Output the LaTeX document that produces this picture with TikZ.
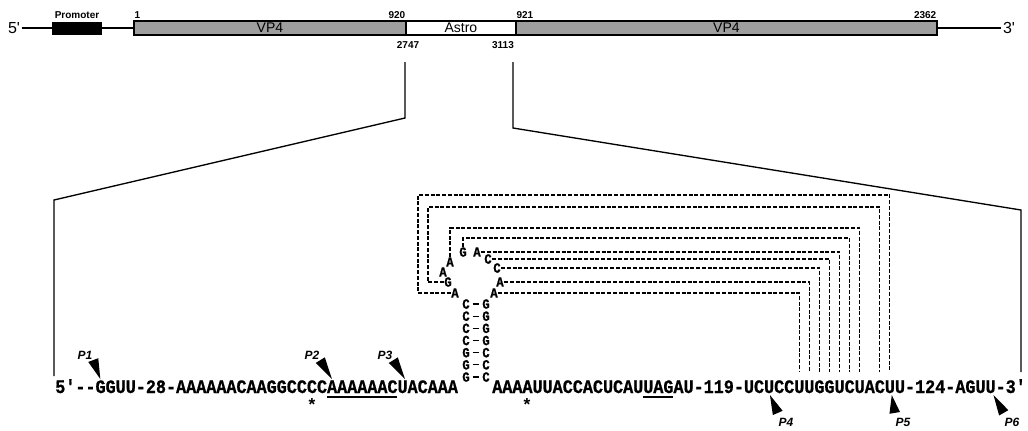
\documentclass[tikz,border=0pt]{standalone}
\usepackage{fontspec}
\usetikzlibrary{calc}
\newfontfamily\labfont{Liberation Sans}
\newfontfamily\seqfont[Ligatures=TeXOff, FakeStretch=0.88, BoldFeatures={FakeBold=0.8}]{Liberation Mono}

% pointer wedge: base centre, tip
\newcommand{\pwedge}[2]{\fill ($#1!4pt!90:#2$) -- ($#1!4pt!-90:#2$) -- #2 -- cycle;}

\begin{document}
\begin{tikzpicture}[x=0.75pt, y=-0.75pt,
            endlab/.style={font=\labfont\fontsize{12}{14}\selectfont, inner sep=1pt},
            promo/.style={draw, fill=black, minimum width=36.75pt, minimum height=9pt, inner sep=0pt},
            genebox/.style={draw, line width=1.4pt, anchor=west, minimum height=10.5pt, inner sep=0pt,
                            font=\labfont\fontsize{10.5}{11}\selectfont},
            vpbox/.style={genebox, fill=black!38},
            numlab/.style={font=\labfont\bfseries\fontsize{7.5}{8}\selectfont, inner sep=1pt},
            backbone/.style={line width=1.1pt},
            zoomline/.style={line width=1pt},
            seqtext/.style={font=\seqfont\bfseries\fontsize{14.3}{16}\selectfont, inner sep=0pt, anchor=base west},
            loopnt/.style={font=\seqfont\bfseries\fontsize{10.5}{11}\selectfont, inner sep=0.2pt},
            stemnt/.style={loopnt, inner xsep=2pt, inner ysep=0.2pt},
            bond/.style={line width=0.9pt},
            pair/.style={dash pattern=on 3pt off 1.3pt, line width=0.85pt},
            plab/.style={font=\labfont\bfseries\itshape\fontsize{9}{10}\selectfont, inner sep=0.5pt},
            astmark/.style={font=\labfont\bfseries\fontsize{13}{14}\selectfont, inner sep=0pt, anchor=base},
            uline/.style={line width=1.5pt}
        ]
    \useasboundingbox (0,0) rectangle (1028,430);

    % genome map
    \node[endlab] (e5) at (14,28) {5\textquotesingle};
    \node[promo] (prom) at (76.5,28) {};
    \node[numlab] (promlab) at (77,15) {Promoter};
    \node[vpbox, minimum width=204pt]    (vpa)   at (133,28) {VP4};
    \node[genebox, minimum width=82.5pt] (astro) at (405,28) {Astro};
    \node[vpbox, minimum width=315.75pt] (vpb)   at (515,28) {VP4};
    \node[endlab] (e3) at (1009,28) {3\textquotesingle};

    \draw[backbone] (e5) -- (prom);
    \draw[backbone] (prom) -- (vpa);
    \draw[backbone] (vpb) -- (e3);

    \node[numlab, anchor=south west] (n1)    at (vpa.north west) {1};
    \node[numlab, anchor=south east] (n920)  at (vpa.north east) {920};
    \node[numlab, anchor=south west] (n921)  at (vpb.north west) {921};
    \node[numlab, anchor=south east] (n2362) at (vpb.north east) {2362};
    \node[numlab] (n2747) at (408,45) {2747};
    \node[numlab] (n3113) at (503,45) {3113};

    % zoom lines
    \coordinate (zl0) at (405,62);  \coordinate (zl1) at (405,118);
    \coordinate (zl2) at (54,200);  \coordinate (zl3) at (54,376);
    \coordinate (zr0) at (513,62);  \coordinate (zr1) at (513,128);
    \coordinate (zr2) at (1021,210);\coordinate (zr3) at (1021,372);
    \draw[zoomline] (zl0) -- (zl1) -- (zl2) -- (zl3);
    \draw[zoomline] (zr0) -- (zr1) -- (zr2) -- (zr3);

    % sequence
    \node[seqtext] (seqL) at (55,393) {5'--GGUU-28-AAAAAACAAGGCCCCAAAAAACUACAAA};
    \node[seqtext] (seqR) at (492,393) {AAAAUUACCACUCAUUAGAU-119-UCUCCUUGGUCUACUU-124-AGUU-3'};

    \draw[uline] ($(seqL.base west)+({27*10.07},4)$) -- ($(seqL.base west)+({34*10.07},4)$);
    \draw[uline] ($(seqR.base west)+({15*10.07},4)$) -- ($(seqR.base west)+({18*10.07},4)$);
    \node[astmark] (ast1) at (312,410) {*};
    \node[astmark] (ast2) at (527,410) {*};

    % stem
    \foreach \l/\r [count=\k from 0] in {C/G,C/G,C/G,C/G,G/C,G/C,G/C} {
        \node[stemnt] (sl\k) at (466,{304+12.17*\k}) {\l};
        \node[stemnt] (sr\k) at (486,{304+12.17*\k}) {\r};
        \draw[bond] (sl\k) -- (sr\k);
    }

    % loop
    \node[loopnt] (lp1)  at (455,293) {A};
    \node[loopnt] (lp2)  at (448,282) {G};
    \node[loopnt] (lp3)  at (443,272) {A};
    \node[loopnt] (lp4)  at (450,262) {A};
    \node[loopnt] (lp5)  at (463,252) {G};
    \node[loopnt] (lp6)  at (477,252) {A};
    \node[loopnt] (lp7)  at (488,259) {C};
    \node[loopnt] (lp8)  at (497,268) {C};
    \node[loopnt] (lp9)  at (500,282) {A};
    \node[loopnt] (lp10) at (494,293) {A};

    % pseudoknot pairs
    \foreach \i in {30,...,39}
        \coordinate (r\i) at ($(seqR.base west)+({(\i+0.5)*10.07},-21)$);
    \draw[pair] (lp1.west) -| (418,195) -| (r39);
    \draw[pair] (lp2.west) -| (428,207) -| (r38);
    \draw[pair] (lp4.north) |- (r36 |- 0,228) -- (r36);
    \draw[pair] (lp5.north) |- (r35 |- 0,238) -- (r35);
    \draw[pair] (lp6.east) -| (r34);
    \draw[pair] (lp7.east) -| (r33);
    \draw[pair] (lp8.east) -| (r32);
    \draw[pair] (lp9.east) -| (r31);
    \draw[pair] (lp10.east) -| (r30);

    % start sites
    \node[plab] (p1) at (85,355) {P1};
    \node[plab] (p2) at (312,355) {P2};
    \node[plab] (p3) at (385,355) {P3};
    \node[plab] (p4) at (786,422) {P4};
    \node[plab] (p5) at (903,422) {P5};
    \node[plab] (p6) at (1012,422) {P6};
    \coordinate (t1) at ($(seqL.base west)+({4.5*10.07},-14)$);
    \coordinate (t2) at ($(seqL.base west)+({27.5*10.07},-14)$);
    \coordinate (t3) at ($(seqL.base west)+({34.75*10.07},-14)$);
    \coordinate (t4) at ($(seqR.base west)+({27.6*10.07},2)$);
    \coordinate (t5) at ($(seqR.base west)+({39.7*10.07},2)$);
    \coordinate (t6) at ($(seqR.base west)+({49.8*10.07},2)$);
    \pwedge{(p1.south east)}{(t1)}
    \pwedge{(p2.south east)}{(t2)}
    \pwedge{(p3.south east)}{(t3)}
    \pwedge{($(p4.north west)+(0,-4)$)}{(t4)}
    \pwedge{($(p5.north west)+(0,-4)$)}{(t5)}
    \pwedge{($(p6.north west)+(0,-4)$)}{(t6)}

\end{tikzpicture}
\end{document}
